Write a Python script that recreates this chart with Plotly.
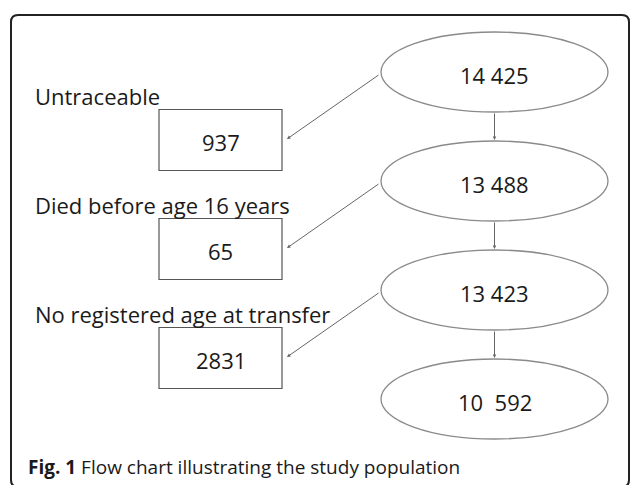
import plotly.graph_objects as go

# ---- data ----
node_counts = ["14 425", "13 488", "13 423", "10\u00a0 592"]
excl_labels = ["Untraceable", "Died before age 16 years", "No registered age at transfer"]
excl_counts = ["937", "65", "2831"]
caption_bold = "Fig. 1"
caption_text = "Flow chart illustrating the study population"

# ---- layout constants (pixels) ----
W, H = 630, 485
ell_x0, ell_x1 = 381, 608
ell_top0, ell_h, row_step = 32, 80, 109
box_x0, box_x1 = 159, 282
box_off, box_h = 68, 61
label_x = 36
label_off = 24

LABEL_FONT = "Open Sans, sans-serif"
TEXT_COLOR = "#1a1a1a"
fig = go.Figure()
shapes = []
annotations = []

# outer rounded frame
r = 7
x0, y0, x1, y1 = 11, 15, 629, 487
shapes.append(dict(type="path", xref="x", yref="y",
                   path=f"M {x0},{y0+r} Q {x0},{y0} {x0+r},{y0} L {x1-r},{y0} Q {x1},{y0} {x1},{y0+r} "
                        f"L {x1},{y1-r} Q {x1},{y1} {x1-r},{y1} L {x0+r},{y1} Q {x0},{y1} {x0},{y1-r} Z",
                   line=dict(color="#222222", width=2), fillcolor="rgba(0,0,0,0)"))

ell_cx = (ell_x0 + ell_x1) / 2
box_cx = (box_x0 + box_x1) / 2
for i, val in enumerate(node_counts):
    top = ell_top0 + i * row_step
    cy = top + ell_h / 2
    shapes.append(dict(type="circle", xref="x", yref="y", x0=ell_x0, x1=ell_x1, y0=top, y1=top + ell_h,
                       line=dict(color="#8a8a8a", width=1.3), fillcolor="white", layer="below"))
    annotations.append(dict(x=ell_cx, y=cy + 3, xref="x", yref="y", text=val, showarrow=False,
                            font=dict(family=LABEL_FONT, size=22, color=TEXT_COLOR)))
    if i < len(node_counts) - 1:
        # down arrow
        annotations.append(dict(x=ell_cx, y=top + row_step - 1, ax=ell_cx, ay=top + ell_h,
                                xref="x", yref="y", axref="x", ayref="y", text="", showarrow=True,
                                arrowhead=2, arrowsize=0.7, arrowwidth=1, arrowcolor="#666666", standoff=0))

for i, (lab, cnt) in enumerate(zip(excl_labels, excl_counts)):
    ecy = ell_top0 + i * row_step + ell_h / 2
    bcy = ecy + box_off
    shapes.append(dict(type="rect", xref="x", yref="y", x0=box_x0, x1=box_x1,
                       y0=bcy - box_h / 2, y1=bcy + box_h / 2,
                       line=dict(color="#555555", width=1.2), fillcolor="rgba(0,0,0,0)"))
    annotations.append(dict(x=box_cx, y=bcy + 2, xref="x", yref="y", text=cnt, showarrow=False,
                            font=dict(family=LABEL_FONT, size=22, color=TEXT_COLOR)))
    annotations.append(dict(x=label_x - 3, y=ecy + label_off, xref="x", yref="y", text=lab, showarrow=False,
                            xanchor="left", font=dict(family=LABEL_FONT, size=22, color=TEXT_COLOR)))
    # diagonal arrow from ellipse left to box right
    annotations.append(dict(x=box_x1 + 5, y=bcy - 1, ax=ell_x0 - 1, ay=ecy + 2,
                            xref="x", yref="y", axref="x", ayref="y", text="", showarrow=True,
                            arrowhead=2, arrowsize=0.7, arrowwidth=1, arrowcolor="#666666", standoff=0))

annotations.append(dict(x=26, y=467, xref="x", yref="y", xanchor="left", showarrow=False,
                        text=f"<b>{caption_bold}</b> {caption_text}",
                        font=dict(family="Open Sans, sans-serif", size=19, color=TEXT_COLOR)))

fig.update_layout(
    width=W, height=H, margin=dict(l=0, r=0, t=0, b=0),
    paper_bgcolor="white", plot_bgcolor="white",
    xaxis=dict(range=[0, W], visible=False, fixedrange=True),
    yaxis=dict(range=[H, 0], visible=False, fixedrange=True),
    shapes=shapes, annotations=annotations, showlegend=False,
)
fig.write_html("out.html", config={"displayModeBar": False},
               post_script="document.body.style.margin='0';document.body.style.overflow='hidden';")
